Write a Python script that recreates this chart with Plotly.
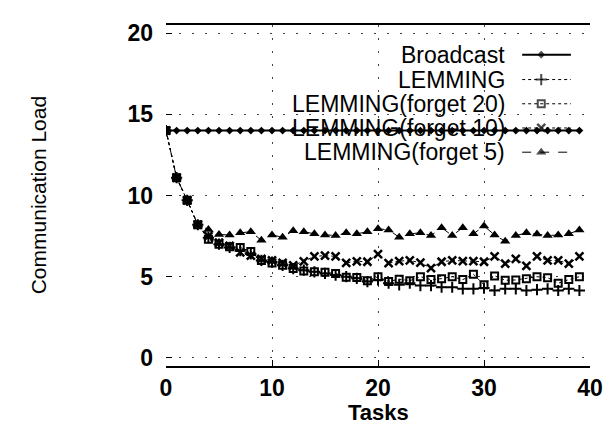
import plotly.graph_objects as go

tasks = list(range(40))

broadcast = [14.0, 14.0, 14.0, 14.0, 14.0, 14.0, 14.0, 14.0, 14.0, 14.0,
             14.0, 14.0, 14.0, 14.0, 14.0, 14.0, 14.0, 14.0, 14.0, 14.0,
             14.0, 14.0, 14.0, 14.0, 14.0, 14.0, 14.0, 14.0, 14.0, 14.0,
             14.0, 14.0, 14.0, 14.0, 14.0, 14.0, 14.0, 14.0, 14.0, 14.0]

lemming = [14.0, 11.1, 9.7, 8.2, 7.4, 7.0, 6.8, 6.6, 6.4, 6.0,
           5.9, 5.7, 5.5, 5.4, 5.3, 5.2, 5.1, 5.0, 4.9, 4.7,
           4.8, 4.6, 4.5, 4.6, 4.45, 4.45, 4.35, 4.35, 4.25, 4.25,
           4.3, 4.15, 4.25, 4.25, 4.15, 4.2, 4.25, 4.15, 4.25, 4.15]

forget20 = [14.0, 11.1, 9.7, 8.2, 7.3, 7.0, 6.85, 6.8, 6.55, 6.0,
            5.85, 5.7, 5.5, 5.35, 5.3, 5.27, 5.2, 4.97, 4.95, 4.75,
            5.0, 4.7, 4.85, 4.75, 5.0, 4.82, 4.88, 5.0, 4.82, 5.15,
            4.5, 5.05, 4.78, 4.8, 4.88, 5.0, 4.94, 4.6, 4.82, 5.0]

forget10 = [14.0, 11.1, 9.7, 8.2, 7.5, 7.1, 6.9, 6.5, 6.3, 6.1,
            6.0, 5.85, 5.7, 5.95, 6.25, 6.3, 6.25, 5.85, 5.95, 5.92,
            6.39, 5.83, 5.96, 6.0, 5.86, 5.53, 5.92, 6.0, 5.96, 5.96,
            5.92, 6.25, 5.8, 6.1, 5.66, 6.25, 6.0, 6.0, 5.8, 6.25]

forget5 = [14.0, 11.1, 9.7, 8.2, 7.9, 7.6, 7.57, 7.7, 7.77, 7.24,
           7.57, 7.43, 7.83, 7.77, 7.64, 7.57, 7.53, 7.7, 7.64, 7.77,
           7.96, 7.88, 7.43, 7.64, 7.7, 7.53, 8.02, 7.53, 8.02, 7.64,
           8.12, 7.57, 7.18, 7.53, 7.7, 7.63, 7.53, 7.57, 7.64, 7.88]

series_names = ["Broadcast", "LEMMING", "LEMMING(forget 20)",
                "LEMMING(forget 10)", "LEMMING(forget 5)"]
series_values = [broadcast, lemming, forget20, forget10, forget5]
x_ticks = [0, 10, 20, 30, 40]
y_ticks = [0, 5, 10, 15, 20]
x_title = "Tasks"
y_title = "Communication Load"

FONT = "Liberation Sans, Arial, Helvetica"

styles = [
    dict(symbol="diamond", size=6, dash="solid", lw=2, mlw=0),
    dict(symbol="cross-thin", size=8, dash="dot", lw=1, mlw=2),
    dict(symbol="square-open", size=7, dash="dot", lw=1, mlw=2),
    dict(symbol="x-thin", size=8, dash="dot", lw=1, mlw=2.5),
    dict(symbol="triangle-up", size=9, dash="dash", lw=1, mlw=0),
]

fig = go.Figure()
for name, vals, st in zip(series_names, series_values, styles):
    fig.add_trace(go.Scatter(
        x=tasks, y=vals, name=name, mode="lines+markers",
        line=dict(color="black", width=st["lw"], dash=st["dash"]),
        marker=dict(symbol=st["symbol"], size=st["size"], color="black",
                    line=dict(color="black", width=st["mlw"])),
        showlegend=False,
    ))

# legend drawn gnuplot-style: text right-aligned, sample on the right
leg_y = [0.913, 0.840, 0.769, 0.698, 0.627]
for name, st, ly in zip(series_names, styles, leg_y):
    fig.add_annotation(xref="paper", yref="paper", x=0.805, y=ly,
                       text=name, showarrow=False, xanchor="right",
                       yanchor="middle",
                       font=dict(family=FONT, size=23, color="black"))
    fig.add_trace(go.Scatter(
        x=[0.84, 0.885, 0.955], y=[ly, ly, ly], xaxis="x2", yaxis="y2",
        mode="lines+markers",
        line=dict(color="black", width=st["lw"], dash=st["dash"]),
        marker=dict(symbol=st["symbol"], size=[0, st["size"], 0],
                    color="black", line=dict(color="black", width=st["mlw"])),
        showlegend=False, hoverinfo="skip",
    ))

# axis titles
fig.add_annotation(xref="paper", yref="paper", x=0.5, y=-0.137,
                   text="<b>" + x_title + "</b>", showarrow=False,
                   xanchor="center", yanchor="middle",
                   font=dict(family=FONT, size=22, color="black"))
fig.add_annotation(xref="paper", yref="paper", x=-0.30, y=0.50,
                   text=y_title, showarrow=False, textangle=-90,
                   xanchor="center", yanchor="middle",
                   font=dict(family=FONT, size=21, color="black"))

grid_dash = "2px,11px"
fig.update_layout(
    width=611, height=431,
    margin=dict(l=158, r=29, t=14, b=73),
    paper_bgcolor="white", plot_bgcolor="white",
    font=dict(family=FONT, size=23, color="black"),
    xaxis=dict(
        range=[0, 40], tickvals=x_ticks, ticktext=[str(t) for t in x_ticks],
        showline=True, mirror=True, linecolor="black", linewidth=2,
        ticks="inside", ticklen=6, tickcolor="black", ticklabelstandoff=0,
        showgrid=True, gridcolor="#444", gridwidth=1, griddash=grid_dash,
        zeroline=False,
        tickfont=dict(size=23, family=FONT, weight="bold"),
    ),
    yaxis=dict(
        range=[-0.5, 20.5], tickvals=y_ticks, ticktext=[str(t) for t in y_ticks],
        showline=False, ticks="inside", ticklen=6, tickcolor="black",
        ticklabelstandoff=12,
        showgrid=True, gridcolor="#444", gridwidth=1, griddash=grid_dash,
        zeroline=False,
        tickfont=dict(size=23, family=FONT, weight="bold"),
    ),
    xaxis2=dict(range=[0, 1], overlaying="x", visible=False),
    yaxis2=dict(range=[0, 1], overlaying="y", visible=False),
)

fig.write_html("out.html")
